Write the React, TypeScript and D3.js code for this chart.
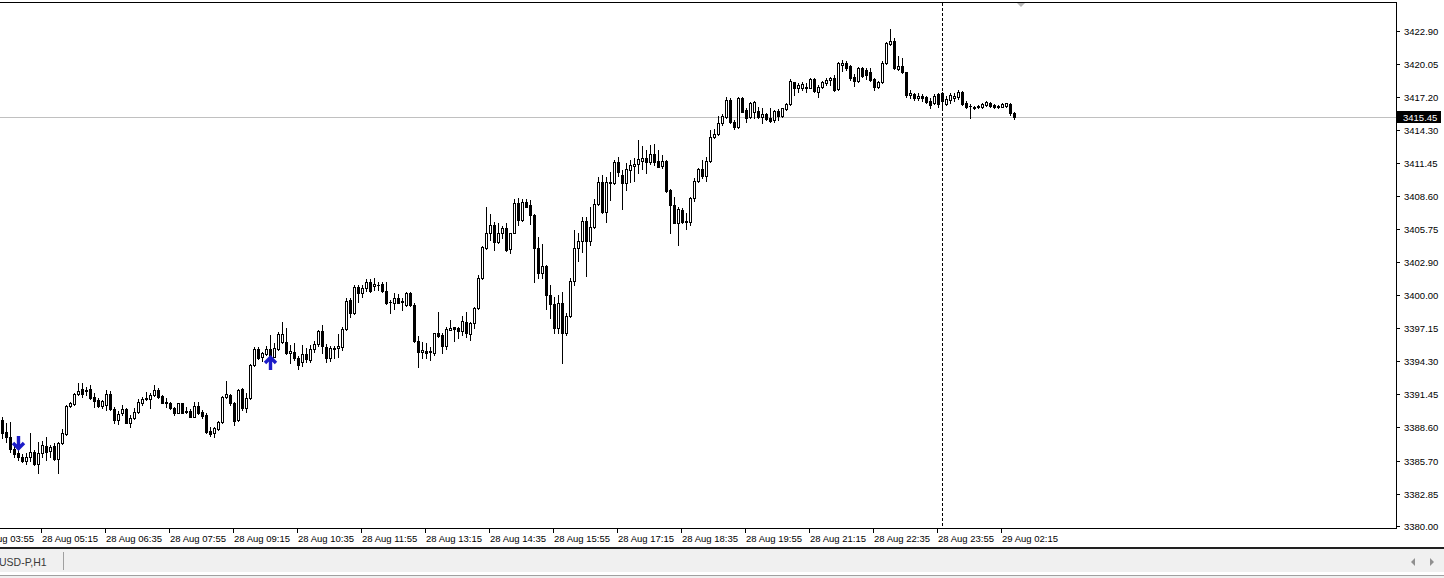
import React from "react";
import * as d3 from "d3";

// OHLC of 5-minute candles, XAUUSD 28–29 Aug
const openP = [
3389.22,3388.15,3387.72,3386.73,3386.39,3385.99,3385.69,3385.99,3386.47,3385.38,
3386.33,3387.00,3386.56,3386.97,3385.87,3387.20,3387.98,3390.43,3390.60,3391.47,
3391.90,3391.70,3391.87,3391.18,3390.95,3390.43,3390.52,3391.47,3390.14,3389.22,
3389.80,3390.14,3388.98,3389.36,3389.94,3390.66,3391.10,3391.01,3391.38,3391.81,
3391.29,3390.80,3390.71,3390.23,3389.85,3390.66,3389.90,3390.02,3389.50,3390.43,
3389.94,3389.65,3388.29,3388.06,3388.41,3389.07,3391.18,3391.38,3390.71,3389.22,
3391.87,3390.23,3391.10,3393.98,3395.34,3394.65,3394.93,3395.34,3394.70,3395.34,
3396.00,3396.00,3394.99,3395.13,3394.56,3394.24,3394.93,3394.41,3395.34,3395.80,
3396.95,3395.56,3394.56,3395.40,3395.42,3395.56,3397.07,3399.61,3398.46,3400.71,
3400.24,3400.62,3401.19,3400.82,3400.92,3400.99,3400.41,3399.40,3399.37,3399.75,
3399.42,3399.17,3400.24,3399.17,3396.08,3395.13,3395.22,3395.20,3395.04,3396.72,
3396.58,3395.62,3397.01,3397.24,3397.16,3396.95,3397.73,3396.66,3397.59,3398.89,
3401.48,3404.08,3405.38,3406.10,3404.65,3405.43,3405.81,3404.00,3405.43,3408.03,
3406.53,3408.12,3407.83,3406.97,3404.08,3401.92,3402.55,3400.04,3399.26,3397.16,
3399.32,3396.72,3398.22,3401.28,3404.08,3404.74,3406.47,3404.74,3405.90,3407.92,
3409.85,3407.25,3409.71,3409.71,3411.58,3410.43,3409.76,3410.86,3411.21,3411.38,
3411.67,3411.87,3411.58,3412.25,3411.67,3411.21,3411.67,3409.13,3407.83,3406.30,
3407.40,3406.36,3406.39,3408.41,3409.93,3410.92,3410.34,3411.67,3413.69,3413.98,
3414.90,3415.48,3416.92,3415.04,3414.61,3417.07,3416.06,3415.48,3415.86,3415.97,
3415.48,3415.68,3415.39,3415.19,3415.97,3415.56,3416.14,3416.55,3418.45,3417.94,
3417.99,3418.00,3417.99,3418.74,3417.64,3418.07,3418.39,3418.65,3418.80,3417.87,
3419.95,3420.10,3419.89,3418.94,3418.57,3419.67,3419.52,3419.37,3418.74,3418.07,
3418.45,3420.10,3421.75,3422.03,3419.61,3419.89,3419.32,3417.35,3417.45,3417.12,
3417.29,3417.21,3416.84,3416.69,3417.44,3417.55,3416.58,3416.92,3417.07,3417.16,
3417.64,3416.69,3416.40,3416.27,3416.32,3416.29,3416.49,3416.69,3416.49,3416.29,
3416.34,3416.40,3416.58,3415.82
];
const highP = [
3389.50,3388.98,3389.02,3386.97,3386.79,3386.27,3386.33,3388.07,3386.62,3387.34,
3387.40,3387.77,3387.05,3387.20,3387.34,3388.41,3390.52,3390.75,3391.53,3392.39,
3392.39,3392.07,3392.25,3391.53,3391.10,3390.95,3391.81,3391.75,3390.32,3390.02,
3390.52,3390.23,3389.65,3390.23,3391.01,3391.23,3391.67,3391.58,3392.25,3391.96,
3391.38,3391.10,3390.80,3390.32,3390.71,3390.71,3390.32,3390.14,3390.80,3390.80,
3390.08,3389.80,3388.58,3388.64,3389.16,3391.29,3392.62,3391.47,3390.80,3391.87,
3391.96,3391.53,3394.07,3395.51,3395.56,3395.13,3395.62,3396.58,3395.86,3396.86,
3397.73,3397.16,3395.71,3395.86,3394.76,3395.71,3395.42,3395.71,3396.08,3397.01,
3397.44,3395.80,3395.62,3395.62,3396.66,3397.29,3399.75,3399.75,3400.90,3400.90,
3400.90,3401.40,3401.40,3401.48,3401.19,3401.19,3401.19,3399.61,3400.24,3400.13,
3399.75,3400.32,3400.32,3399.32,3396.49,3396.00,3395.86,3395.56,3396.78,3398.59,
3396.72,3397.29,3397.87,3397.29,3397.29,3398.22,3398.59,3397.73,3399.03,3401.77,
3404.28,3407.68,3407.05,3406.39,3406.25,3406.01,3406.25,3405.43,3408.32,3408.41,
3408.32,3408.32,3408.27,3407.05,3405.09,3404.45,3402.64,3400.90,3399.89,3400.04,
3400.32,3398.45,3401.48,3405.67,3405.43,3406.82,3406.82,3407.68,3408.32,3410.28,
3410.43,3410.28,3410.71,3411.73,3412.01,3410.86,3411.44,3411.73,3411.87,3413.46,
3412.94,3412.59,3413.03,3413.11,3412.59,3412.16,3411.73,3409.19,3408.55,3407.68,
3407.55,3407.11,3408.55,3410.14,3411.01,3411.73,3412.01,3414.32,3414.39,3415.54,
3415.68,3417.21,3417.07,3415.19,3417.21,3417.21,3416.20,3416.77,3416.84,3416.34,
3416.20,3415.77,3416.20,3416.06,3416.14,3416.25,3416.64,3418.74,3418.51,3418.37,
3418.51,3418.37,3418.85,3418.80,3418.22,3418.57,3418.85,3418.94,3419.09,3420.19,
3420.39,3420.30,3419.95,3419.15,3419.81,3419.81,3419.72,3419.72,3418.85,3418.57,
3420.30,3421.97,3423.07,3422.26,3420.76,3420.53,3419.37,3417.79,3417.50,3417.50,
3417.42,3417.29,3417.10,3417.44,3417.55,3417.64,3417.27,3417.50,3417.50,3417.79,
3417.73,3416.86,3416.58,3416.40,3416.49,3416.69,3416.86,3416.77,3416.58,3416.49,
3416.69,3416.69,3416.69,3415.91
];
const lowP = [
3387.63,3387.34,3386.47,3385.99,3385.75,3385.61,3385.41,3385.69,3385.32,3384.60,
3386.04,3385.75,3385.99,3385.75,3384.60,3387.14,3387.92,3390.32,3390.52,3391.38,
3391.23,3391.38,3391.01,3390.37,3390.32,3390.23,3390.08,3390.08,3388.98,3388.87,
3389.65,3388.93,3388.64,3389.28,3389.80,3390.52,3390.95,3390.23,3391.29,3391.10,
3390.66,3390.37,3390.14,3389.65,3389.80,3389.80,3389.80,3389.45,3389.45,3389.74,
3389.36,3388.12,3387.83,3387.77,3388.35,3388.98,3391.10,3390.52,3388.78,3389.16,
3390.08,3389.94,3391.01,3393.89,3394.47,3394.35,3394.84,3394.56,3394.65,3395.28,
3395.91,3394.93,3394.13,3394.41,3393.61,3393.89,3394.26,3394.26,3395.13,3395.62,
3394.99,3394.26,3394.35,3394.56,3394.65,3395.28,3397.01,3398.16,3398.39,3399.46,
3399.89,3400.41,3400.32,3400.47,3400.47,3400.32,3399.30,3398.45,3398.80,3399.32,
3398.74,3399.09,3399.09,3396.00,3393.78,3394.56,3394.56,3394.41,3394.84,3396.43,
3395.04,3395.34,3396.98,3396.08,3396.29,3396.58,3396.43,3396.14,3397.16,3398.80,
3401.40,3404.00,3404.80,3403.93,3404.52,3404.95,3403.87,3403.65,3405.38,3406.10,
3406.48,3407.63,3406.19,3401.19,3401.48,3401.48,3398.80,3398.02,3396.77,3396.72,
3394.18,3396.58,3398.16,3400.90,3403.01,3403.79,3401.68,3404.37,3405.81,3407.83,
3407.16,3406.39,3408.27,3409.65,3410.34,3407.46,3409.13,3409.85,3409.94,3410.63,
3410.92,3410.58,3411.38,3411.29,3411.10,3411.01,3408.99,3405.38,3406.25,3404.37,
3406.30,3405.73,3406.10,3408.21,3409.85,3410.14,3409.93,3411.58,3413.61,3413.89,
3414.76,3415.34,3414.90,3414.39,3414.52,3415.86,3415.04,3415.39,3415.34,3415.39,
3414.90,3415.19,3415.04,3415.04,3415.19,3415.48,3416.06,3416.49,3417.35,3417.64,
3417.79,3417.64,3417.94,3417.64,3417.21,3417.94,3418.22,3418.22,3417.70,3417.79,
3419.43,3419.52,3418.65,3418.16,3418.51,3418.94,3418.74,3418.57,3417.79,3417.99,
3418.37,3420.01,3421.68,3419.61,3419.52,3419.23,3417.21,3417.12,3416.92,3416.92,
3416.84,3416.64,3416.26,3416.58,3416.34,3416.34,3416.49,3416.69,3416.86,3416.98,
3416.49,3416.20,3415.34,3416.12,3416.20,3416.20,3416.40,3416.34,3416.20,3416.23,
3416.29,3416.34,3415.62,3415.28
];
const closeP = [
3388.12,3387.72,3386.68,3386.27,3385.99,3385.69,3385.99,3386.47,3385.38,3386.33,
3387.05,3386.47,3386.85,3385.87,3387.20,3388.12,3390.43,3390.66,3391.47,3391.73,
3391.47,3391.78,3391.10,3390.89,3390.43,3390.89,3391.47,3390.14,3389.22,3389.74,
3390.14,3388.98,3389.36,3389.94,3390.80,3391.01,3391.01,3391.38,3391.81,3391.23,
3390.71,3390.66,3390.23,3389.80,3390.66,3389.85,3389.97,3389.50,3390.43,3389.85,
3389.56,3388.20,3388.00,3388.50,3389.07,3391.18,3391.47,3390.66,3389.16,3391.81,
3390.23,3391.10,3393.98,3395.34,3394.56,3394.99,3395.34,3394.70,3395.42,3396.66,
3396.66,3394.99,3395.22,3394.56,3393.98,3394.93,3394.47,3395.34,3395.80,3396.95,
3395.62,3394.56,3395.42,3395.45,3395.62,3397.07,3399.55,3398.51,3400.76,3400.24,
3400.62,3401.19,3400.41,3400.99,3400.95,3400.41,3399.32,3399.46,3399.75,3399.37,
3399.48,3400.24,3399.17,3396.08,3395.13,3395.28,3395.04,3395.08,3396.72,3396.49,
3395.62,3397.07,3397.16,3397.07,3396.95,3397.81,3396.72,3397.59,3398.89,3401.48,
3404.17,3405.38,3406.10,3404.65,3405.43,3405.81,3403.93,3405.38,3408.03,3406.53,
3408.12,3407.68,3406.97,3404.08,3401.92,3402.55,3400.04,3399.26,3397.16,3399.32,
3396.77,3398.22,3401.28,3404.08,3404.74,3406.47,3404.74,3405.90,3407.92,3409.85,
3407.25,3409.85,3409.85,3411.58,3410.69,3409.71,3410.92,3411.29,3411.38,3411.79,
3411.87,3411.58,3412.25,3411.58,3411.15,3411.67,3409.07,3407.83,3406.30,3407.46,
3406.39,3406.42,3408.41,3409.93,3410.92,3410.34,3411.67,3413.69,3413.98,3414.90,
3415.56,3416.92,3414.99,3414.61,3417.07,3415.91,3415.34,3416.64,3416.77,3415.48,
3415.68,3415.28,3415.10,3415.97,3415.56,3416.20,3416.55,3418.57,3417.99,3418.22,
3418.28,3418.06,3418.74,3417.70,3418.07,3418.45,3418.65,3418.85,3417.79,3420.10,
3420.10,3419.72,3418.80,3418.57,3419.72,3419.03,3419.09,3418.65,3418.07,3418.45,
3420.10,3421.83,3422.03,3419.67,3419.89,3419.32,3417.35,3417.50,3417.07,3417.29,
3417.07,3416.72,3416.49,3417.27,3416.58,3416.86,3416.98,3417.35,3417.27,3417.64,
3416.58,3416.29,3416.36,3416.31,3416.36,3416.58,3416.77,3416.40,3416.29,3416.40,
3416.58,3416.64,3415.77,3415.45
];

const timeLabels = [
  "28 Aug 03:55", "28 Aug 05:15", "28 Aug 06:35", "28 Aug 07:55", "28 Aug 09:15",
  "28 Aug 10:35", "28 Aug 11:55", "28 Aug 13:15", "28 Aug 14:35", "28 Aug 15:55",
  "28 Aug 17:15", "28 Aug 18:35", "28 Aug 19:55", "28 Aug 21:15", "28 Aug 22:35",
  "28 Aug 23:55", "29 Aug 02:15",
];
const timeLabelIndex = [-6, 10, 26, 42, 58, 74, 90, 106, 122, 138, 154, 170, 186, 202, 218, 234, 250];

const priceTicks = [
  "3380.00", "3382.85", "3385.70", "3388.60", "3391.45", "3394.30", "3397.15", "3400.00",
  "3402.90", "3405.75", "3408.60", "3411.45", "3414.30", "3417.20", "3420.05", "3422.90",
];
const lastPrice = 3415.45;
const lastPriceLabel = "3415.45";
const separatorIndex = 235;
const arrowMarks = [
  { i: 4, price: 3386.6, dir: "down" },
  { i: 67, price: 3394.75, dir: "up" },
];
const symbolTab = "USD-P,H1";

const FONT = "'Liberation Sans', Arial, sans-serif";

export default function App() {
  const W = 1444;
  const H = 578;
  const plotRight = 1396;
  const plotTop = 2;
  const plotBottom = 528;

  const x = d3.scaleLinear().domain([0, 253]).range([2, 1014]);
  const y = d3.scaleLinear().domain([3379.87, 3425.32]).range([528, 3]);

  const candles = openP.map((o, i) => {
    const cx = Math.round(x(i));
    const c = closeP[i];
    const yH = Math.round(y(highP[i]));
    const yL = Math.round(y(lowP[i]));
    const top = Math.round(y(Math.max(o, c)));
    const bot = Math.round(y(Math.min(o, c)));
    const bull = c > o;
    return (
      <g key={i}>
        <rect x={cx} y={yH} width={1} height={Math.max(1, yL - yH + 1)} fill="#000" />
        <rect x={cx - 1} y={top} width={3} height={Math.max(1, bot - top + 1)} fill="#000" />
        {bull && bot - top - 1 > 0 && (
          <rect x={cx} y={top + 1} width={1} height={bot - top - 1} fill="#fff" />
        )}
      </g>
    );
  });

  const sepX = Math.round(x(separatorIndex)) + 0.5;
  const lastY = Math.round(y(lastPrice)) + 0.5;

  return (
    <div style={{ position: "absolute", left: 0, top: 0 }}>
      <svg width={W} height={H} style={{ display: "block" }} shapeRendering="crispEdges">
        <rect x={0} y={0} width={W} height={H} fill="#fff" />
        {/* price line */}
        <line x1={0} x2={plotRight} y1={lastY} y2={lastY} stroke="#c0c0c0" strokeWidth={1} />
        {/* day separator */}
        <line x1={sepX} x2={sepX} y1={plotTop + 1} y2={plotBottom} stroke="#000" strokeWidth={1} strokeDasharray="3,2" />
        {candles}
        {/* trade arrows */}
        {arrowMarks.map((a, k) => {
          const cx = Math.round(x(a.i)) + 0.5;
          const tip = Math.round(y(a.price));
          const s = a.dir === "down" ? 1 : -1;
          const d = `M${cx},${tip - s * 14} L${cx},${tip - s * 2} M${cx - 5.5},${tip - s * 7} L${cx},${tip - s * 1.5} L${cx + 5.5},${tip - s * 7}`;
          return (
            <path key={k} d={d} fill="none" stroke="#1c1cc8" strokeWidth={3.4} strokeLinejoin="miter" shapeRendering="auto" />
          );
        })}
        {/* frame */}
        <line x1={0} x2={plotRight} y1={plotTop + 0.5} y2={plotTop + 0.5} stroke="#000" />
        <line x1={plotRight + 0.5} x2={plotRight + 0.5} y1={plotTop} y2={plotBottom + 1} stroke="#000" />
        <line x1={0} x2={plotRight + 1} y1={plotBottom + 0.5} y2={plotBottom + 0.5} stroke="#000" />
        {/* chart shift marker */}
        <path d="M1017,3 L1025,3 L1021,7 Z" fill="#b8b8b8" shapeRendering="auto" />
        {/* price axis */}
        {priceTicks.map((t) => {
          const ty = Math.round(y(+t)) + 0.5;
          return (
            <g key={t}>
              <line x1={plotRight + 1} x2={plotRight + 4} y1={ty} y2={ty} stroke="#000" />
              <text x={1404} y={ty} dy="0.35em" fontFamily={FONT} fontSize={9.5} fill="#000" shapeRendering="auto">
                {t}
              </text>
            </g>
          );
        })}
        <rect x={plotRight + 1} y={lastY - 6.5} width={44} height={12} fill="#000" />
        <text x={1403} y={lastY} dy="0.35em" fontFamily={FONT} fontSize={9.5} fill="#fff">
          {lastPriceLabel}
        </text>
        {/* time axis */}
        {timeLabels.map((t, k) => {
          const tx = Math.round(x(timeLabelIndex[k]));
          return (
            <g key={t}>
              <line x1={tx - 0.5} x2={tx - 0.5} y1={plotBottom + 1} y2={plotBottom + 5} stroke="#000" />
              <text x={tx} y={542} fontFamily={FONT} fontSize={9.5} fill="#000">
                {t}
              </text>
            </g>
          );
        })}
        {/* bottom tab bar */}
        <rect x={0} y={547} width={W} height={2} fill="#202020" />
        <rect x={0} y={549} width={W} height={23} fill="#f0f0f0" />
        <line x1={63.5} x2={63.5} y1={552} y2={570} stroke="#a0a0a0" />
        <text x={-1} y={566} fontFamily={FONT} fontSize={10.5} fill="#3a3a3a">
          {symbolTab}
        </text>
        <path d="M1415,558 L1415,566 L1411,562 Z" fill="#909090" shapeRendering="auto" />
        <path d="M1430,558 L1430,566 L1434,562 Z" fill="#909090" shapeRendering="auto" />
        <rect x={0} y={572} width={W} height={3} fill="#fff" />
        <rect x={0} y={575} width={W} height={1} fill="#a0a0a0" />
        <rect x={0} y={576} width={W} height={2} fill="#f0f0f0" />
      </svg>
    </div>
  );
}
